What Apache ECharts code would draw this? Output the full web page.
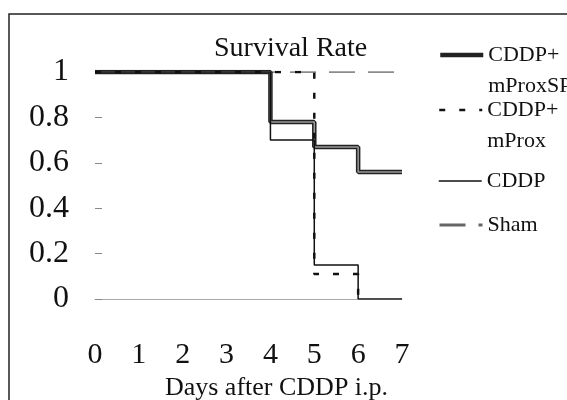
<!DOCTYPE html>
<html><head><meta charset="utf-8">
<script src="https://cdn.jsdelivr.net/npm/echarts@6/dist/echarts.min.js"></script>
<style>html,body{margin:0;padding:0;background:#fff}#c{width:567px;height:400px}</style>
</head><body><div id="c"></div>
<script>
const days = [0, 1, 2, 3, 4, 5, 6, 7];
const seriesNames = ['CDDP+ mProxSP', 'CDDP+ mProx', 'CDDP', 'Sham'];
const legendLabels = ['CDDP+\nmProxSP', 'CDDP+\nmProx', 'CDDP', 'Sham'];
const mProxSP = [1, 1, 1, 1, 0.78, 0.67, 0.56, 0.56];
const mProx = [1, 1, 1, 1, 1, 0.11, 0, null];
const cddp = [1, 1, 1, 1, 0.7, 0.15, 0, 0];
const sham = [1, 1, 1, 1, 1, 1, 1, 1];
const titleText = 'Survival Rate';
const xName = 'Days after CDDP i.p.';

const FONT = '"Liberation Serif", "Times New Roman", serif';
const pts = v => days.map((d, i) => [d, v[i]]).filter(p => p[1] != null);
const legendIcon = [55, 110, 181, 225];
const legendLineW = [4.5, 2.5, 1.5, 3];
const LH = 31;

const chart = echarts.init(document.getElementById('c'));
const legends = seriesNames.map((n, i) => {
  const multi = legendLabels[i].indexOf('\n') >= 0;
  return {
    data: [n],
    left: 438,
    top: legendIcon[i] - (multi ? 1.5 * LH : 0.5 * LH),
    padding: 0,
    itemWidth: 43,
    itemHeight: 14,
    itemStyle: { opacity: 0 },
    lineStyle: { width: legendLineW[i] },
    formatter: () => (multi ? ' \n' : '') + legendLabels[i],
    textStyle: { fontFamily: FONT, fontSize: 22, color: '#111', lineHeight: LH }
  };
});

chart.setOption({
  animation: false,
  backgroundColor: '#fff',
  title: {
    text: titleText, left: 214, top: 35, padding: 0,
    textStyle: { fontFamily: FONT, fontSize: 28, fontWeight: 'normal', color: '#111' }
  },
  graphic: [{
    type: 'rect', shape: { x: 9, y: 14, width: 620, height: 460 },
    style: { fill: 'none', stroke: '#222', lineWidth: 1.5 }, silent: true
  }],
  legend: legends,
  grid: { left: 95, right: 165, top: 72, bottom: 101, containLabel: false, outerBoundsMode: 'none' },
  xAxis: {
    type: 'value', min: 0, max: 7, interval: 1,
    name: xName, nameLocation: 'middle', nameGap: 62,
    nameTextStyle: { fontFamily: FONT, fontSize: 26, color: '#111', padding: [0, 0, 0, 56] },
    axisLine: { show: true, lineStyle: { color: '#aaa', width: 1 } },
    axisTick: { show: false },
    splitLine: { show: false },
    axisLabel: { fontFamily: FONT, fontSize: 30, color: '#111', margin: 41 }
  },
  yAxis: {
    type: 'value', min: 0, max: 1, interval: 0.2,
    axisLine: { show: false },
    axisTick: { show: true, inside: true, length: 7, lineStyle: { color: '#888', width: 1 } },
    splitLine: { show: false },
    axisLabel: { fontFamily: FONT, fontSize: 32, color: '#111', margin: 26 }
  },
  series: [
    { name: 'Sham', type: 'line', step: 'end', symbol: 'none', data: pts(sham),
      itemStyle: { color: '#555' },
      lineStyle: { color: '#666', width: 1.6, type: [26, 13] }, z: 1 },
    { name: 'CDDP+ mProxSP', type: 'line', step: 'end', symbol: 'none', data: pts(mProxSP),
      itemStyle: { color: '#222' },
      lineStyle: { color: '#222', width: 4.5 }, z: 2 },
    { name: 'CDDP+ mProxSP', type: 'line', step: 'end', symbol: 'none', data: pts(mProxSP),
      itemStyle: { color: '#9a9a9a' },
      lineStyle: { color: '#9a9a9a', width: 1.5 }, z: 3 },
    { name: 'CDDP+ mProx', type: 'line', step: 'end', symbol: 'none', data: pts(mProx),
      itemStyle: { color: '#111' },
      lineStyle: { color: '#111', width: 2.5, type: [6, 14] }, z: 4 },
    { name: 'CDDP', type: 'line', step: 'end', symbol: 'none', data: pts(cddp),
      itemStyle: { color: '#111' },
      lineStyle: { color: '#111', width: 1.5 }, z: 5 }
  ]
});
</script></body></html>
